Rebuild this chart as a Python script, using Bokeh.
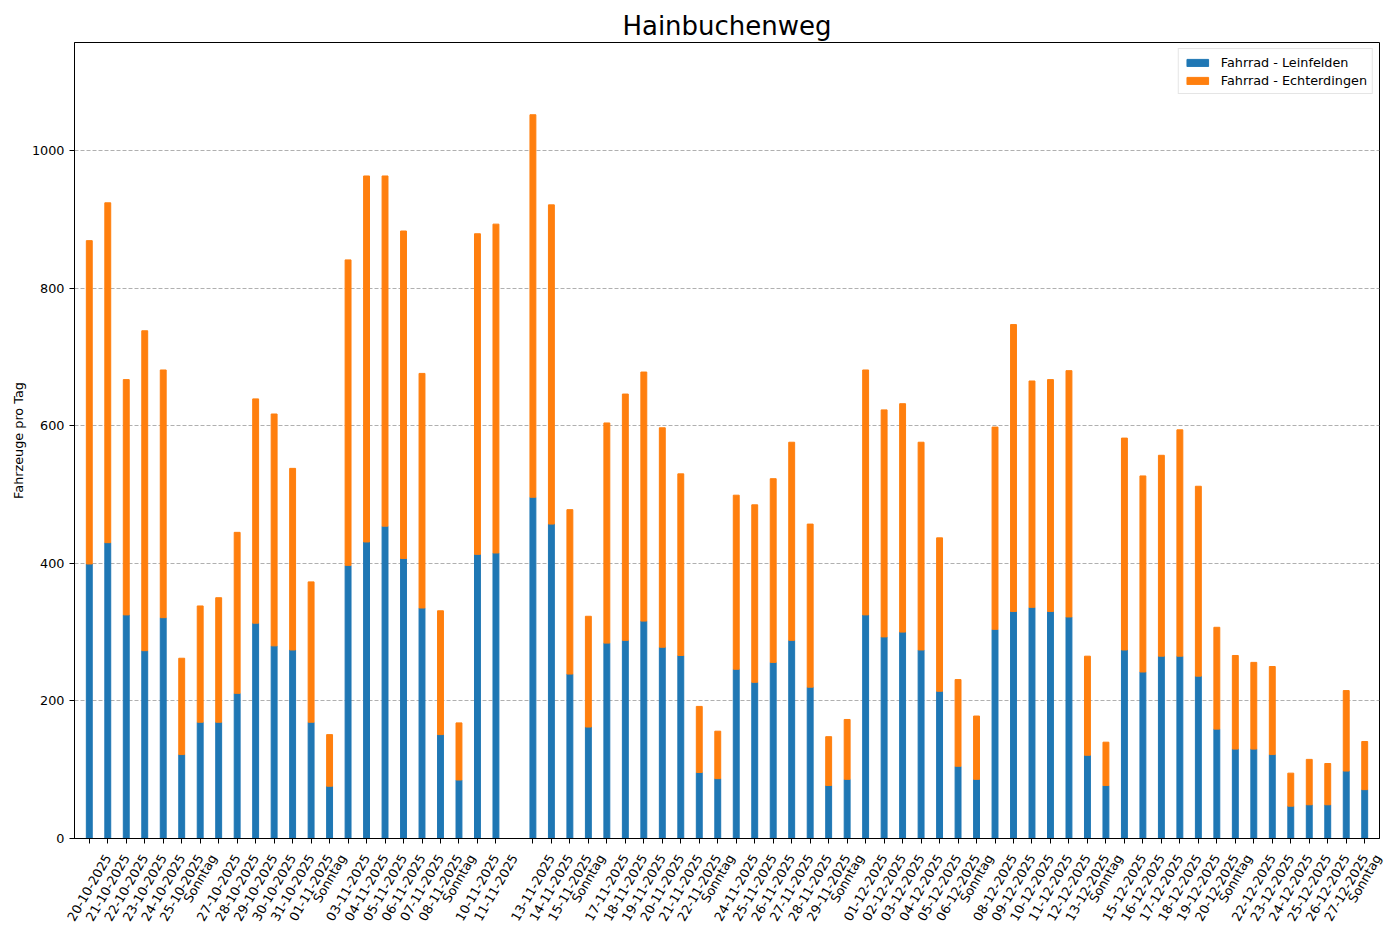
import math
from datetime import datetime

from bokeh.embed import file_html
from bokeh.models import ColumnDataSource, CustomLabelingPolicy, FixedTicker, LinearAxis, Range1d
from bokeh.plotting import figure
from bokeh.resources import INLINE

dates = [
    "20-10-2025", "21-10-2025", "22-10-2025", "23-10-2025", "24-10-2025", "25-10-2025", "26-10-2025",
    "27-10-2025", "28-10-2025", "29-10-2025", "30-10-2025", "31-10-2025", "01-11-2025", "02-11-2025",
    "03-11-2025", "04-11-2025", "05-11-2025", "06-11-2025", "07-11-2025", "08-11-2025", "09-11-2025",
    "10-11-2025", "11-11-2025", "13-11-2025", "14-11-2025", "15-11-2025", "16-11-2025",
    "17-11-2025", "18-11-2025", "19-11-2025", "20-11-2025", "21-11-2025", "22-11-2025", "23-11-2025",
    "24-11-2025", "25-11-2025", "26-11-2025", "27-11-2025", "28-11-2025", "29-11-2025", "30-11-2025",
    "01-12-2025", "02-12-2025", "03-12-2025", "04-12-2025", "05-12-2025", "06-12-2025", "07-12-2025",
    "08-12-2025", "09-12-2025", "10-12-2025", "11-12-2025", "12-12-2025", "13-12-2025", "14-12-2025",
    "15-12-2025", "16-12-2025", "17-12-2025", "18-12-2025", "19-12-2025", "20-12-2025", "21-12-2025",
    "22-12-2025", "23-12-2025", "24-12-2025", "25-12-2025", "26-12-2025", "27-12-2025", "28-12-2025",
]

tick_labels = [
    "20-10-2025", "21-10-2025", "22-10-2025", "23-10-2025", "24-10-2025", "25-10-2025", "Sonntag",
    "27-10-2025", "28-10-2025", "29-10-2025", "30-10-2025", "31-10-2025", "01-11-2025", "Sonntag",
    "03-11-2025", "04-11-2025", "05-11-2025", "06-11-2025", "07-11-2025", "08-11-2025", "Sonntag",
    "10-11-2025", "11-11-2025", "13-11-2025", "14-11-2025", "15-11-2025", "Sonntag",
    "17-11-2025", "18-11-2025", "19-11-2025", "20-11-2025", "21-11-2025", "22-11-2025", "Sonntag",
    "24-11-2025", "25-11-2025", "26-11-2025", "27-11-2025", "28-11-2025", "29-11-2025", "Sonntag",
    "01-12-2025", "02-12-2025", "03-12-2025", "04-12-2025", "05-12-2025", "06-12-2025", "Sonntag",
    "08-12-2025", "09-12-2025", "10-12-2025", "11-12-2025", "12-12-2025", "13-12-2025", "Sonntag",
    "15-12-2025", "16-12-2025", "17-12-2025", "18-12-2025", "19-12-2025", "20-12-2025", "Sonntag",
    "22-12-2025", "23-12-2025", "24-12-2025", "25-12-2025", "26-12-2025", "27-12-2025", "Sonntag",
]

leinfelden = [
    399, 430, 325, 273, 321, 122, 169,
    169, 211, 313, 280, 274, 169, 76,
    397, 431, 454, 407, 335, 151, 85,
    413, 415, 496, 457, 239, 162,
    284, 288, 316, 278, 266, 96, 87,
    246, 227, 256, 288, 220, 77, 86,
    325, 293, 300, 274, 214, 105, 86,
    304, 330, 336, 330, 322, 121, 77,
    274, 242, 265, 265, 236, 159, 130,
    130, 122, 47, 49, 49, 98, 71,
]

echterdingen = [
    470, 494, 342, 465, 360, 140, 169,
    181, 234, 326, 337, 264, 204, 75,
    444, 532, 509, 476, 341, 180, 83,
    466, 478, 556, 464, 239, 161,
    320, 358, 362, 319, 264, 96, 69,
    253, 258, 267, 288, 237, 71, 87,
    356, 330, 332, 302, 223, 126, 92,
    294, 417, 329, 337, 358, 144, 63,
    308, 285, 292, 329, 276, 148, 136,
    126, 128, 48, 66, 60, 117, 70,
]

series_names = ["Fahrrad - Leinfelden", "Fahrrad - Echterdingen"]
colors = ["#1f77b4", "#ff7f0e"]

FONT = "DejaVu Sans"
LABEL_PX = 12.8
FRAME_W, FRAME_H = 1305, 796

# DejaVu Sans advance widths (em) for the tick label characters
ADVANCE = {"-": 0.361, "S": 0.635, "o": 0.612, "n": 0.634, "t": 0.392, "a": 0.613, "g": 0.635}


def text_px(s):
    return sum(ADVANCE.get(c, 0.636) for c in s) * LABEL_PX


start = datetime.strptime(dates[0], "%d-%m-%Y")
x = [(datetime.strptime(d, "%d-%m-%Y") - start).days for d in dates]
x_start, x_end = x[0] - 0.8, x[-1] + 0.8
px_per_unit = FRAME_W / (x_end - x_start)

# matplotlib centres the rotated label box on the tick; bokeh anchors the
# label end there, so push each label right by a quarter of its length
shifts = [text_px(lab) / 4 / px_per_unit for lab in tick_labels]
common = max(shifts)
label_ticks = [xi + s - common for xi, s in zip(x, shifts)]

source = ColumnDataSource(dict(x=x, leinfelden=leinfelden, echterdingen=echterdingen))

p = figure(
    frame_width=FRAME_W,
    frame_height=FRAME_H,
    title="Hainbuchenweg",
    x_range=Range1d(x_start, x_end),
    y_range=Range1d(0, 1157),
    output_backend="svg",
    toolbar_location=None,
    min_border_left=74,
    min_border_right=5,
    min_border_top=42,
    min_border_bottom=70,
    background_fill_color="white",
    border_fill_color="white",
    outline_line_color="black",
    outline_line_width=1,
)
p.extra_x_ranges = {"labels": Range1d(x_start - common, x_end - common)}

p.vbar_stack(
    ["leinfelden", "echterdingen"],
    x="x",
    width=0.32,
    color=colors,
    source=source,
    legend_label=series_names,
)

p.title.text_font = FONT
p.title.text_font_size = "26px"
p.title.text_font_style = "normal"
p.title.text_color = "black"
p.title.align = "center"
p.title.standoff = 4

p.xgrid.visible = False
p.ygrid.grid_line_color = "#b0b0b0"
p.ygrid.grid_line_dash = "4 2"
p.ygrid.grid_line_width = 1

p.yaxis.ticker = [0, 200, 400, 600, 800, 1000]
p.xaxis.ticker = x

for ax in (p.xaxis, p.yaxis):
    ax.major_label_text_font = FONT
    ax.major_label_text_font_size = f"{LABEL_PX}px"
    ax.major_label_text_color = "black"
    ax.axis_line_color = "black"
    ax.major_tick_line_color = "black"
    ax.major_tick_out = 5
    ax.major_tick_in = 0
    ax.minor_tick_line_color = None
    ax.major_label_standoff = 5

# tick marks only on the main x axis, its labels are drawn by label_axis
p.xaxis.major_label_standoff = 0
p.xaxis.major_label_text_font_size = "1px"
p.xaxis.major_label_policy = CustomLabelingPolicy(
    code="for (const i of indices) { indices.unset(i) } return indices"
)

label_axis = LinearAxis(
    x_range_name="labels",
    ticker=FixedTicker(ticks=label_ticks),
    major_label_overrides={t: lab for t, lab in zip(label_ticks, tick_labels)},
    major_label_orientation=math.pi / 3,
    major_label_text_font=FONT,
    major_label_text_font_size=f"{LABEL_PX}px",
    major_label_text_color="black",
    major_label_standoff=8,
    major_tick_out=0,
    major_tick_in=0,
    major_tick_line_color=None,
    minor_tick_line_color=None,
    axis_line_color=None,
)
p.add_layout(label_axis, "below")

p.yaxis.axis_label = "Fahrzeuge pro Tag"
p.yaxis.axis_label_text_font = FONT
p.yaxis.axis_label_text_font_size = f"{LABEL_PX}px"
p.yaxis.axis_label_text_font_style = "normal"
p.yaxis.axis_label_text_color = "black"
p.yaxis.axis_label_standoff = 3

p.legend.location = "top_right"
p.legend.margin = 6
p.legend.padding = 5
p.legend.spacing = 2
p.legend.label_height = 16
p.legend.glyph_width = 27
p.legend.glyph_height = 9
p.legend.label_standoff = 10
p.legend.label_text_font = FONT
p.legend.label_text_font_size = f"{LABEL_PX}px"
p.legend.label_text_color = "black"
p.legend.border_line_color = "#cccccc"
p.legend.background_fill_alpha = 0.8

open("out.html", "w").write(file_html(p, INLINE))
